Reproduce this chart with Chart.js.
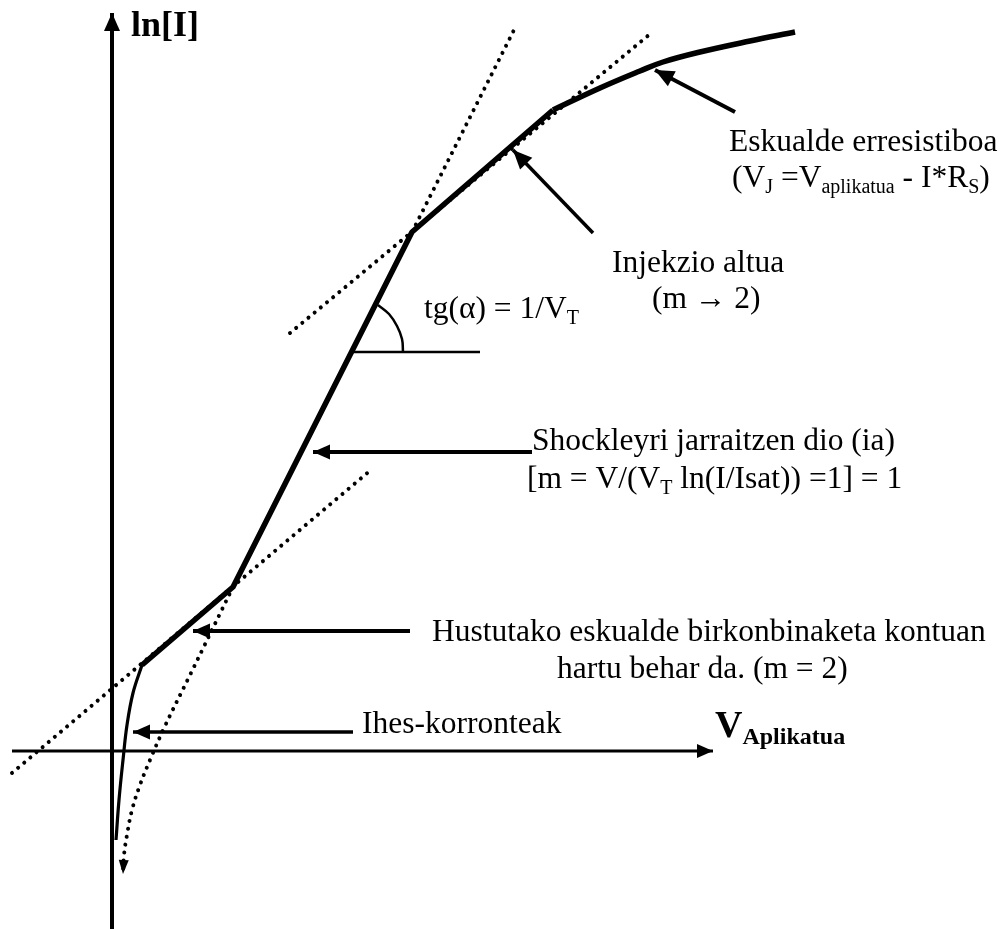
<!DOCTYPE html>
<html>
<head>
<meta charset="utf-8">
<script src="https://cdn.jsdelivr.net/npm/chart.js@4.4.1/dist/chart.umd.min.js"></script>
<style>
  html, body { margin: 0; padding: 0; background: #fff; }
  canvas { display: block; }
</style>
</head>
<body>
<canvas id="myChart" width="1005" height="929"></canvas>
<script>
// axes of the diagram (V aplikatua horizontal, ln[I] vertical)
const lnIAxis = [[0, -17.8], [0, 73.8]];
const vAxis = [[-10.0, 0], [60.1, 0]];

// characteristic curve, piece by piece
const leakCurve = [[0.4, -8.9], [0.7, -4.9], [1.1, -0.9], [1.5, 2.6], [2.1, 5.8], [3.0, 8.6]];
const mainCurve = [[3.0, 8.6], [12.1, 16.4], [30.0, 51.9], [44.1, 64.1]];
const resistCurve = [[44.1, 64.1], [48.8, 66.3], [52.8, 68.0], [55.1, 68.9], [58.8, 69.9], [63.8, 71.0], [68.3, 71.9]];

// dotted tangents
const tangentHigh = [[17.8, 41.8], [53.8, 71.7]];
const tangentShockUp = [[29.3, 50.5], [40.2, 72.1]];
const tangentShockDown = [[12.1, 16.4], [7.8, 7.6], [5.3, 2.5], [3.8, -0.9], [2.8, -3.4], [2.0, -5.9], [1.5, -8.4], [1.2, -10.4], [1.1, -12.3]];
const tangentRecomb = [[-10.0, -2.2], [26.0, 28.2]];

// slope angle marker
const angleBase = [[24.0, 39.9], [36.8, 39.9]];
const angleArc = [[26.6, 44.6], [27.7, 43.7], [28.5, 42.5], [29.0, 41.2], [29.1, 39.9]];

// pointer arrows (tail -> tip)
const ptrResist = [[62.3, 63.9], [54.3, 68.1]];
const ptrHigh = [[48.1, 51.8], [40.1, 60.1]];
const ptrShockley = [[42.0, 29.9], [20.1, 29.9]];
const ptrRecomb = [[29.8, 12.0], [8.1, 12.0]];
const ptrLeak = [[24.1, 1.9], [2.1, 1.9]];

// text, _{..} is a subscript
const labels = [
    { x: 1.9, y: 71.5, text: 'ln[I]', size: 36, bold: true },
    { x: 60.3, y: 1.4, text: 'V_{Aplikatua}', size: 38, bold: true },
    { x: 61.7, y: 60.0, text: 'Eskualde erresistiboa', size: 31.5 },
    { x: 62.0, y: 56.4, text: '(V_{J} =V_{aplikatua} - I*R_{S})', size: 31.5 },
    { x: 50.0, y: 47.9, text: 'Injekzio altua', size: 31.5 },
    { x: 54.0, y: 44.3, text: '(m \u2192 2)', size: 31.5 },
    { x: 31.2, y: 43.3, text: 'tg(\u03b1) = 1/V_{T}', size: 31.5 },
    { x: 42.0, y: 30.1, text: 'Shockleyri jarraitzen dio (ia)', size: 31.5 },
    { x: 41.5, y: 26.3, text: '[m = V/(V_{T} ln(I/Isat)) =1] = 1', size: 31.5 },
    { x: 32.0, y: 11.0, text: 'Hustutako eskualde birkonbinaketa kontuan', size: 31.5 },
    { x: 44.5, y: 7.3, text: 'hartu behar da. (m = 2)', size: 31.5 },
    { x: 25.0, y: 1.8, text: 'Ihes-korronteak', size: 31.5 }
];

const pts = (arr) => arr.map(p => ({ x: p[0], y: p[1] }));

const line = (arr, width, extra) => Object.assign({
    data: pts(arr),
    showLine: true,
    borderColor: '#000',
    backgroundColor: '#000',
    borderWidth: width,
    pointRadius: 0,
    fill: false,
    tension: 0,
    borderCapStyle: 'butt',
    borderJoinStyle: 'round'
}, extra || {});

const dotted = { borderDash: [0.01, 8], borderCapStyle: 'round' };

const datasets = [
    line(lnIAxis, 4, { arrow: [18, 16] }),
    line(vAxis, 3, { arrow: [16, 14] }),
    line(leakCurve, 3.2, { tension: 0.4 }),
    line(mainCurve, 5.5),
    line(resistCurve, 5.5, { tension: 0.4 }),
    line(tangentHigh, 4, dotted),
    line(tangentShockUp, 4, dotted),
    line(tangentShockDown, 4, Object.assign({ tension: 0.4, arrow: [14, 10] }, dotted)),
    line(tangentRecomb, 4, dotted),
    line(angleBase, 2.5),
    line(angleArc, 2.5, { tension: 0.4 }),
    line(ptrResist, 4, { arrow: [19, 17] }),
    line(ptrHigh, 3.5, { arrow: [19, 17] }),
    line(ptrShockley, 4, { arrow: [17, 15] }),
    line(ptrRecomb, 4, { arrow: [17, 15] }),
    line(ptrLeak, 3.5, { arrow: [17, 15] })
];

// filled arrow heads at the last point of a dataset
const arrowHeads = {
    id: 'arrowHeads',
    afterDatasetsDraw(chart) {
        const ctx = chart.ctx;
        chart.data.datasets.forEach((ds, i) => {
            if (!ds.arrow) return;
            const el = chart.getDatasetMeta(i).data;
            const tip = el[el.length - 1], prev = el[el.length - 2];
            const a = Math.atan2(tip.y - prev.y, tip.x - prev.x);
            const len = ds.arrow[0], half = ds.arrow[1] / 2;
            ctx.save();
            ctx.translate(tip.x, tip.y);
            ctx.rotate(a);
            ctx.fillStyle = '#000';
            ctx.beginPath();
            ctx.moveTo(0, 0);
            ctx.lineTo(-len, -half);
            ctx.lineTo(-len, half);
            ctx.closePath();
            ctx.fill();
            ctx.restore();
        });
    }
};

const drawRich = (ctx, x, y, str, size, bold) => {
    const parts = str.split(/_\{([^}]*)\}/);
    let cx = x;
    parts.forEach((p, i) => {
        if (!p) return;
        const sub = i % 2 === 1;
        const fs = sub ? Math.round(size * 0.64) : size;
        ctx.font = (bold ? 'bold ' : '') + fs + 'px "Liberation Serif", "Times New Roman", serif';
        ctx.fillText(p, cx, sub ? y + size * 0.19 : y);
        cx += ctx.measureText(p).width;
    });
};

const textLabels = {
    id: 'textLabels',
    afterDraw(chart) {
        const ctx = chart.ctx, sx = chart.scales.x, sy = chart.scales.y;
        ctx.save();
        ctx.fillStyle = '#000';
        ctx.textBaseline = 'alphabetic';
        ctx.textAlign = 'left';
        labels.forEach(l => {
            drawRich(ctx, sx.getPixelForValue(l.x), sy.getPixelForValue(l.y), l.text, l.size, l.bold);
        });
        ctx.restore();
    }
};

const whiteBg = {
    id: 'whiteBg',
    beforeDraw(chart) {
        const ctx = chart.ctx;
        ctx.save();
        ctx.fillStyle = '#fff';
        ctx.fillRect(0, 0, chart.width, chart.height);
        ctx.restore();
    }
};

var ctx = document.getElementById('myChart').getContext('2d');
var chart = new Chart(ctx, {
    type: 'scatter',
    data: { datasets: datasets },
    options: {
        responsive: false,
        animation: false,
        events: [],
        layout: { padding: 0 },
        plugins: { legend: { display: false }, tooltip: { enabled: false } },
        scales: {
            x: { type: 'linear', display: false, min: -11.2, max: 89.3 },
            y: { type: 'linear', display: false, min: -17.8, max: 75.1 }
        }
    },
    plugins: [whiteBg, arrowHeads, textLabels]
});
</script>
</body>
</html>
